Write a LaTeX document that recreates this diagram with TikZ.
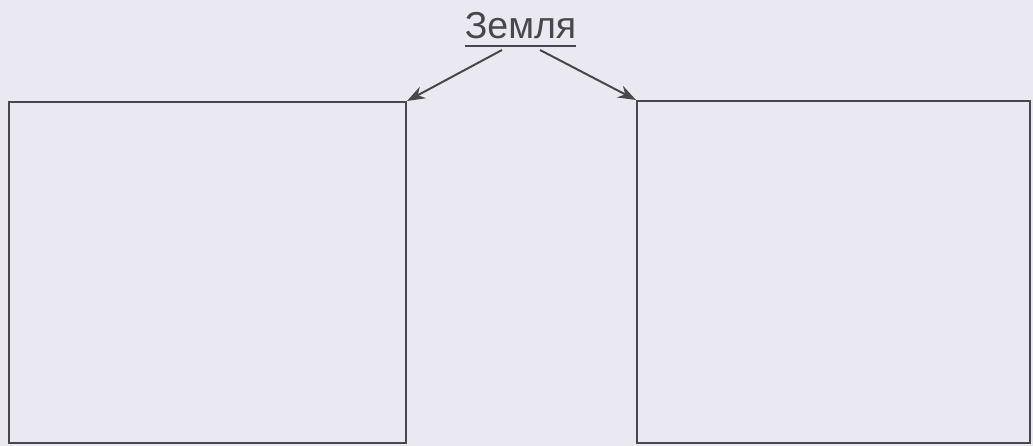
\documentclass[tikz,border=0pt]{standalone}
\usepackage{fontspec}
\setmainfont{Liberation Sans}
\usetikzlibrary{arrows.meta,calc}
\definecolor{paper}{RGB}{234,232,241}
\definecolor{ink}{RGB}{72,72,76}
\begin{document}
\begin{tikzpicture}[x=1pt,y=1pt,
  boxstyle/.style={draw=ink,line width=2pt,minimum width=397pt,minimum height=341pt,inner sep=0pt},
  arrowstyle/.style={draw=ink,line width=2pt,-{Stealth[length=18pt,width=13pt]}}]
\fill[paper] (0,0) rectangle (1033,446);
\useasboundingbox (0,0) rectangle (1033,446);
\node[anchor=base,inner sep=0pt,text=ink,font=\fontsize{37.5}{42}\selectfont] (t) at (520.5,407) {Земля};
\draw[ink,line width=1.8pt] ($(t.base west)+(0,-7)$) -- ($(t.base east)+(0,-7)$);
\node[boxstyle,anchor=south west] (L) at (8,2) {};
\node[boxstyle,anchor=south west,minimum width=393pt,minimum height=342pt] (R) at (636,2) {};
\coordinate (a1) at (502,396);
\coordinate (a2) at (540,396);
\draw[arrowstyle] (a1) -- (L.north east);
\draw[arrowstyle] (a2) -- (R.north west);
\end{tikzpicture}
\end{document}
